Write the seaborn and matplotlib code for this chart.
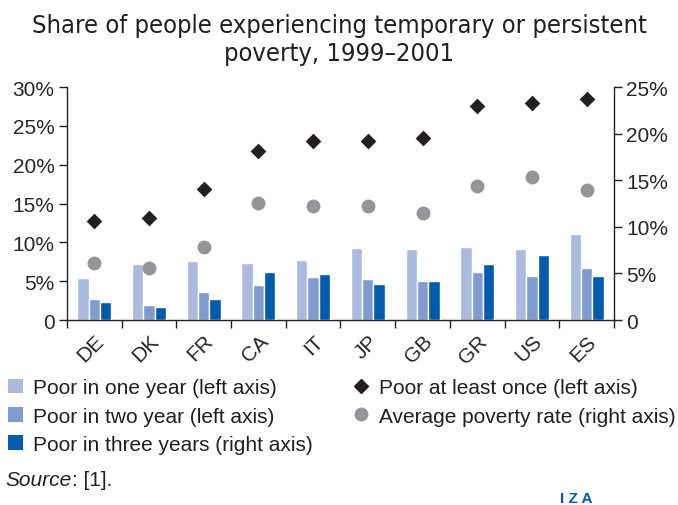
"""Share of people experiencing temporary or persistent poverty, 1999-2001."""

import matplotlib

matplotlib.use("Agg")

import matplotlib.pyplot as plt
import numpy as np
import pandas as pd
import seaborn as sns
from matplotlib.lines import Line2D
from matplotlib.patches import Patch
from matplotlib.ticker import FixedLocator

countries = ["DE", "DK", "FR", "CA", "IT", "JP", "GB", "GR", "US", "ES"]
# left axis (%)
poor_one_year = [5.4, 7.2, 7.6, 7.4, 7.7, 9.3, 9.2, 9.4, 9.2, 11.1]
poor_two_year = [2.7, 1.9, 3.6, 4.5, 5.5, 5.3, 5.0, 6.2, 5.7, 6.7]
poor_at_least_once = [12.8, 13.2, 16.9, 21.8, 23.0, 23.1, 23.4, 27.5, 27.9, 28.4]
# right axis (%)
poor_three_years = [1.9, 1.4, 2.3, 5.2, 4.9, 3.9, 4.2, 6.0, 7.0, 4.7]
avg_poverty_rate = [6.1, 5.6, 7.8, 12.6, 12.2, 12.2, 11.5, 14.4, 15.3, 14.0]

series = [
    "Poor in one year (left axis)",
    "Poor in two year (left axis)",
    "Poor in three years (right axis)",
]
colors = ["#abbbdf", "#7f9bcf", "#005bac"]
DIAMOND = "#231f20"
GREY = "#939598"
INK = "#231f20"

left_df = pd.DataFrame({
    "country": countries * 3,
    "series": np.repeat(series, len(countries)),
    "value": poor_one_year + poor_two_year + [np.nan] * len(countries),
})
right_df = pd.DataFrame({
    "country": countries * 3,
    "series": np.repeat(series, len(countries)),
    "value": [np.nan] * (2 * len(countries)) + poor_three_years,
})

sns.set_style("white")
plt.rcParams["font.family"] = ["Liberation Sans", "DejaVu Sans"]
plt.rcParams["text.color"] = INK

fig = plt.figure(figsize=(6.78, 5.06), dpi=100)
ax = fig.add_axes([0.0988, 0.3656, 0.8068, 0.4604])
ax2 = ax.twinx()

bar_kw = dict(x="country", y="value", hue="series", hue_order=series,
              order=countries, palette=colors, width=0.62, gap=0,
              saturation=1, legend=False, err_kws={"linewidth": 0})
sns.barplot(data=left_df, ax=ax, **bar_kw)
sns.barplot(data=right_df, ax=ax2, **bar_kw)

sns.stripplot(x=countries, y=poor_at_least_once, order=countries, ax=ax,
              jitter=False, marker="D", size=8, color=DIAMOND, linewidth=0)
sns.stripplot(x=countries, y=avg_poverty_rate, order=countries, ax=ax2,
              jitter=False, marker="o", size=10, color=GREY, linewidth=0)

ax.set_ylim(0, 30)
ax2.set_ylim(0, 25)
ax.set_xlim(-0.5, len(countries) - 0.5)

ax.set_yticks(range(0, 31, 5))
ax.set_yticklabels(["0"] + [f"{v}%" for v in range(5, 31, 5)])
ax2.set_yticks(range(0, 26, 5))
ax2.set_yticklabels(["0"] + [f"{v}%" for v in range(5, 26, 5)])

ax.set_xticks(range(len(countries)))
ax.set_xticklabels(countries, rotation=45, ha="right", rotation_mode="anchor")
ax.xaxis.set_minor_locator(FixedLocator(np.arange(-0.5, len(countries), 1)))
ax.tick_params(axis="x", which="major", length=0, pad=8, labelsize=15)
ax.tick_params(axis="x", which="minor", length=6, width=1, color=INK,
               direction="out", bottom=True)
ax.tick_params(axis="y", length=6, width=1, color=INK, direction="out",
               labelsize=15, pad=3, left=True)
ax2.tick_params(axis="y", length=6, width=1, color=INK, direction="out",
                labelsize=15, pad=3, right=True)
ax.set_xlabel("")
ax.set_ylabel("")
ax2.set_ylabel("")

for a in (ax, ax2):
    for side, sp in a.spines.items():
        sp.set_visible(side in ("left", "bottom", "right"))
        sp.set_color(INK)
        sp.set_linewidth(1)
ax.spines["right"].set_visible(False)
ax2.spines["left"].set_visible(False)
ax2.spines["bottom"].set_visible(False)

fig.text(0.5, 0.972, "Share of people experiencing temporary or persistent\npoverty, 1999\u20132001",
         ha="center", va="top", fontsize=18.3, linespacing=1.2,
         family="DejaVu Sans", stretch="condensed")

bar_handles = [Patch(facecolor=c, edgecolor="none") for c in colors]
fig.legend(bar_handles, series, loc="upper left", bbox_to_anchor=(0.0, 0.267),
           frameon=False, fontsize=15, handlelength=0.7, handleheight=0.7,
           handletextpad=0.5, labelspacing=0.45, borderaxespad=0)

pt_handles = [
    Line2D([], [], marker="D", color=DIAMOND, linestyle="", markersize=7),
    Line2D([], [], marker="o", color=GREY, linestyle="", markersize=9),
]
fig.legend(pt_handles, ["Poor at least once (left axis)",
                        "Average poverty rate (right axis)"],
           loc="upper left", bbox_to_anchor=(0.51, 0.267), frameon=False,
           fontsize=15, handlelength=0.7, handletextpad=0.5,
           labelspacing=0.45, borderaxespad=0)

src = fig.text(0.008, 0.051, "Source", fontsize=15, style="italic", va="center")
ax.annotate(": [1].", xy=(1, 0.5), xycoords=src, va="center", ha="left",
            fontsize=15, annotation_clip=False)
fig.text(0.85, 0.014, "I Z A", fontsize=11, weight="bold", color="#005bac",
         ha="center", va="center")

fig.savefig("out.png", dpi=100)
